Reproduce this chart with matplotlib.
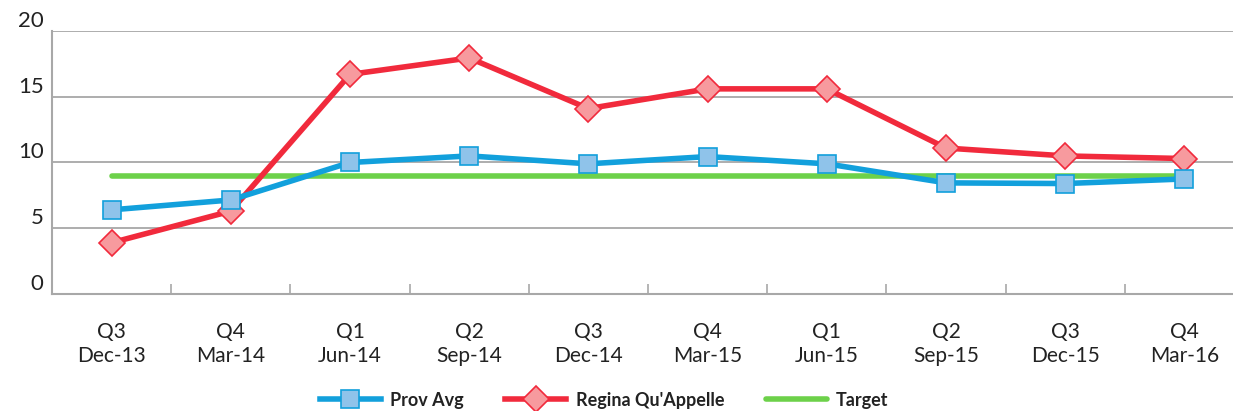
import matplotlib
from matplotlib import pyplot as plt

matplotlib.use("agg")

quarters = ["Q3", "Q4", "Q1", "Q2", "Q3", "Q4", "Q1", "Q2", "Q3", "Q4"]
months = ["Dec-13", "Mar-14", "Jun-14", "Sep-14", "Dec-14",
          "Mar-15", "Jun-15", "Sep-15", "Dec-15", "Mar-16"]
prov_avg = [6.4, 7.15, 10.0, 10.5, 9.9, 10.45, 9.9, 8.45, 8.4, 8.75]
regina = [3.9, 6.3, 16.7, 17.95, 14.1, 15.6, 15.6, 11.1, 10.5, 10.3]
target = [9.0] * 10

plt.rcParams["font.family"] = ["Lato", "DejaVu Sans"]

fig = plt.figure(figsize=(12.33, 4.11), dpi=100)
ax = fig.add_axes([52 / 1233, 1 - 294 / 411, 1192 / 1233, 263 / 411])

x = list(range(len(months)))
ax.plot(x, prov_avg, color="#12a0dc", lw=4, marker="s", ms=13,
        mfc="#8fc3ea", mec="#12a0dc", mew=1.2, label="Prov Avg", zorder=4)
ax.plot(x, regina, color="#f12a3c", lw=4, marker="D", ms=13,
        mfc="#f79a9e", mec="#f12a3c", mew=1.2, label="Regina Qu'Appelle", zorder=3)
ax.plot(x, target, color="#6dd14a", lw=4, label="Target", zorder=2,
        solid_capstyle="round")

ax.set_xlim(-0.5, 9.5)
ax.set_ylim(0, 20)
ax.set_yticks([0, 5, 10, 15, 20])
ax.yaxis.grid(True, color="#a0a0a0", lw=1.2)
ax.set_axisbelow(True)
for s in ["top", "right"]:
    ax.spines[s].set_visible(False)
for s in ["left", "bottom"]:
    ax.spines[s].set_color("#a8a8a8")
    ax.spines[s].set_linewidth(1.5)

# tick marks sit between categories, labels sit on them
ax.set_xticks([i + 0.5 for i in range(-1, 10)], minor=False)
ax.set_xticklabels([])
ax.tick_params(axis="x", which="major", direction="in", length=7,
               color="#a8a8a8", width=1.2)
ax.set_xticks(x, minor=True)
ax.set_xticklabels([f"{q}\n{m}" for q, m in zip(quarters, months)],
                   minor=True, fontsize=15, color="#222222", linespacing=1.25)
ax.tick_params(axis="x", which="minor", length=0, pad=20)
ax.tick_params(axis="y", length=0, labelsize=16, labelcolor="#222222", pad=6)
for lbl in ax.get_yticklabels():
    lbl.set_verticalalignment("bottom")

leg = ax.legend(loc="center", bbox_to_anchor=(552 / 1192, (294 - 400) / 263),
                ncol=3, frameon=False, fontsize=13, handlelength=3.4,
                columnspacing=2.3, handletextpad=0.5)
for t in leg.get_texts():
    t.set_fontweight("bold")
    t.set_color("#222222")

plt.savefig("out.png", dpi=100)
